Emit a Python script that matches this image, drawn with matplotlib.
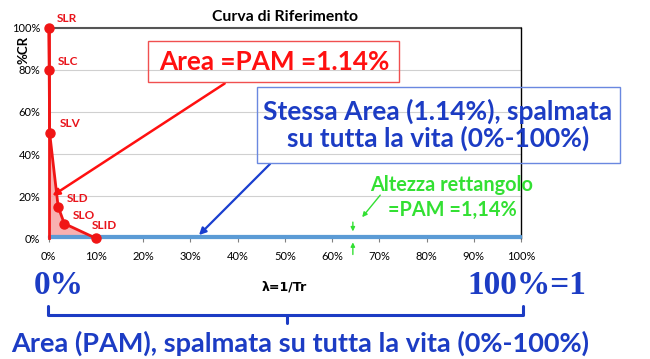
import matplotlib
matplotlib.use("Agg")
import matplotlib.pyplot as plt
from matplotlib.lines import Line2D
from matplotlib.ticker import FuncFormatter

# ---- data ----
states = ["SLR", "SLC", "SLV", "SLD", "SLO", "SLID"]
lam = [0.0, 0.1, 0.2, 2.0, 3.3, 10.0]      # lambda = 1/Tr (%)
cr = [100, 80, 50, 15, 7, 0]               # %CR
pam = 1.14                                 # %
x_ticks = [0, 10, 20, 30, 40, 50, 60, 70, 80, 90, 100]
y_ticks = [0, 20, 40, 60, 80, 100]

W, H = 650, 359
fig = plt.figure(figsize=(W / 100, H / 100), dpi=100)
plt.rcParams['font.family'] = ['Lato', 'DejaVu Sans']

def fx(x):
    return x / W

def fy(y):
    return 1 - y / H

ax_l, ax_r, ax_t, ax_b = 48.7, 521.0, 27.7, 238.3
ax = fig.add_axes([fx(ax_l), fy(ax_b), (ax_r - ax_l) / W, (ax_b - ax_t) / H])
ax.set_xlim(0, 100)
ax.set_ylim(0, 100)
fmt = FuncFormatter(lambda v, p: f"{v:.0f}%")
ax.set_xticks(x_ticks)
ax.set_yticks(y_ticks)
ax.xaxis.set_major_formatter(fmt)
ax.yaxis.set_major_formatter(fmt)
ax.tick_params(axis='x', length=3, width=0.8, color='#808080', labelsize=8, pad=6)
ax.tick_params(axis='y', length=0, labelsize=8, pad=6)
for s in ax.spines.values():
    s.set_visible(False)
ax.grid(axis='y', color='#d0d0d0', lw=0.8)
ax.set_axisbelow(True)
ax.axhline(100, color='#555555', lw=1.5, zorder=1, clip_on=False)
ax.axvline(100, color='#000000', lw=1.0, zorder=1, clip_on=False)
ax.axhline(0, color='#9a9a9a', lw=0.8, zorder=1)

# red curve and filled area
ax.fill_between(lam, cr, 0, color='#f7a3a3', alpha=0.85, lw=0, zorder=2)
# uniform rectangle
ax.fill_between([0, 100], 0, pam, color='#5b9bd5', lw=1.6, edgecolor='#5b9bd5', zorder=3,
                clip_on=False)
ax.plot(lam, cr, color='#f01515', lw=2, marker='o', ms=6.5, zorder=4, clip_on=False)
ax.plot([0, 0], [0, 100], color='#f01515', lw=2, zorder=4, clip_on=False)

label_off = {"SLR": (6, 3), "SLC": (6, 2), "SLV": (7, 3), "SLD": (6, 2), "SLO": (6, 2), "SLID": (-3, 5)}
for s, x, y in zip(states, lam, cr):
    ax.annotate(s, (x, y), xytext=label_off[s], textcoords='offset points',
                color='#e8141b', fontsize=8.5, fontweight='bold', ha='left', va='bottom',
                annotation_clip=False, zorder=5)

ax.set_title("Curva di Riferimento", fontsize=11.3, fontweight='bold', pad=5)
fig.text(fx(23), fy(50), "%CR", rotation=90, fontsize=9.5, fontweight='bold', ha='center', va='center')
fig.text(fx(284), fy(287), "λ=1/Tr", fontsize=9, fontweight='bold', ha='center', va='center',
         family=['DejaVu Sans'])

# red box + arrow
red = '#ff1010'
fig.text(fx(274), fy(62), "Area =PAM =1.14%", fontsize=18.8, fontweight='bold', color=red,
         ha='center', va='center')
fig.patches.append(plt.Rectangle((fx(148), fy(82)), (399 - 148) / W, (82 - 41) / H,
                                 transform=fig.transFigure, fill=False, ec='#f05050', lw=1))
ax.annotate("", xy=(0.3, 19.5), xycoords='data', xytext=(fx(227), fy(82)),
            textcoords='figure fraction',
            arrowprops=dict(arrowstyle='-|>', color=red, lw=1.8, mutation_scale=10),
            annotation_clip=False)

# blue box + arrow
blue = '#1c3cc4'
fig.text(fx(438), fy(125), "Stessa Area (1.14%), spalmata\nsu tutta la vita (0%-100%)",
         fontsize=19, fontweight='bold', color=blue, ha='center', va='center', linespacing=1.05)
fig.patches.append(plt.Rectangle((fx(257), fy(163)), (620 - 257) / W, (163 - 87) / H,
                                 transform=fig.transFigure, fill=False, ec='#6a88e0', lw=1))
ax.annotate("", xy=(31.4, 0.6), xycoords='data', xytext=(fx(272), fy(162)),
            textcoords='figure fraction',
            arrowprops=dict(arrowstyle='-|>', color='#1a3fcf', lw=1.6, mutation_scale=10),
            annotation_clip=False)

# green text + arrows
green = '#33e033'
fig.text(fx(452), fy(185), "Altezza rettangolo", fontsize=14.3, fontweight='bold', color=green,
         ha='center', va='center')
fig.text(fx(452), fy(210), "=PAM =1,14%", fontsize=14.3, fontweight='bold', color=green,
         ha='center', va='center')
ax.annotate("", xy=(66.0, 9), xycoords='data', xytext=(fx(382), fy(193)),
            textcoords='figure fraction',
            arrowprops=dict(arrowstyle='-|>', color=green, lw=1.0, mutation_scale=7),
            annotation_clip=False)
ax.annotate("", xy=(64.4, pam + 0.8), xycoords='data', xytext=(64.4, 9),
            arrowprops=dict(arrowstyle='-|>', color=green, lw=1.0, mutation_scale=6),
            annotation_clip=False)
ax.annotate("", xy=(64.4, -0.6), xycoords='data', xytext=(64.4, -9),
            arrowprops=dict(arrowstyle='-|>', color=green, lw=1.0, mutation_scale=6),
            annotation_clip=False)

# bottom annotations
fig.text(fx(59), fy(286), "0%", fontsize=24, fontweight='bold', color=blue, ha='center',
         va='center', family=['Liberation Serif'])
fig.text(fx(527), fy(286), "100%=1", fontsize=24, fontweight='bold', color=blue, ha='center',
         va='center', family=['Liberation Serif'])
bk = dict(color=blue, lw=2.2, solid_capstyle='round', solid_joinstyle='round')
fig.add_artist(Line2D([fx(48), fx(48), fx(523), fx(523)], [fy(306), fy(315), fy(315), fy(306)],
                      transform=fig.transFigure, **bk))
fig.add_artist(Line2D([fx(287), fx(287)], [fy(315), fy(323)], transform=fig.transFigure, **bk))
fig.text(fx(300), fy(343), "Area (PAM), spalmata su tutta la vita (0%-100%)", fontsize=19.5,
         fontweight='bold', color=blue, ha='center', va='center')

fig.savefig("out.png", dpi=100, facecolor='white')
